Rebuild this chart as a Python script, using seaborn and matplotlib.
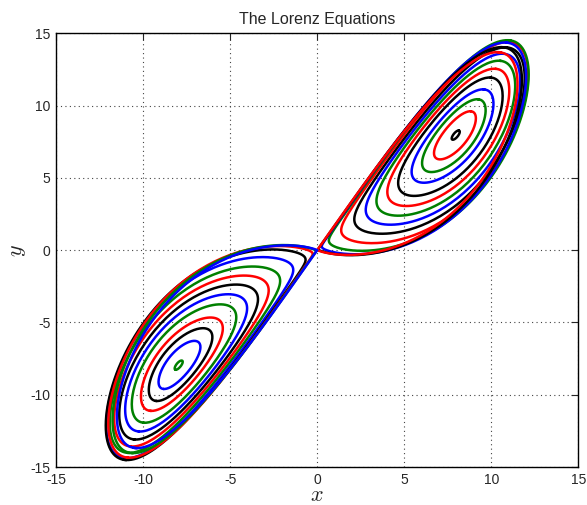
import numpy as np
import matplotlib
matplotlib.use("Agg")
import matplotlib.pyplot as plt
import seaborn as sns

# Lorenz system parameters
SIGMA = 10.0
BETA = 8.0 / 3.0

# rho values of the unstable periodic orbits, innermost orbit first
RHO_VALUES = [24.73, 24.55, 24.3, 24.0, 23.5, 23.0, 22.4, 21.7, 20.8,
              19.5, 17.8, 16.3, 15.0, 14.0]

# line colours for each orbit (same order as RHO_VALUES)
RIGHT_COLORS = ["k", "r", "g", "b", "k", "r", "g", "b", "k", "r", "g", "b", "k", "r"]
LEFT_COLORS = ["g", "b", "k", "r", "g", "b", "k", "r", "g", "b", "k", "r", "g", "b"]
COLOR_MAP = {"r": "#ff0000", "g": "#008000", "b": "#0000ff", "k": "#000000"}

TICKS = [-15, -10, -5, 0, 5, 10, 15]
TITLE = "The Lorenz Equations"

STEP = 0.004


def rhs(s, rho):
    x, y, z = s[..., 0], s[..., 1], s[..., 2]
    return np.stack([SIGMA * (y - x), x * (rho - z) - y, x * y - BETA * z], axis=-1)


def rk4(s, rho, h):
    k1 = rhs(s, rho)
    k2 = rhs(s + 0.5 * h * k1, rho)
    k3 = rhs(s + 0.5 * h * k2, rho)
    k4 = rhs(s + h * k3, rho)
    return s + h / 6.0 * (k1 + 2 * k2 + 2 * k3 + k4)


def locate_orbits(rhos, n_grid=24, rounds=9, t_end=24.0):
    """Bisect along a ray from C+ for the edge of its basin (the periodic orbit)."""
    rhos = np.asarray(rhos, float)
    c = np.sqrt(BETA * (rhos - 1.0))
    centre = np.stack([c, c, rhos - 1.0], axis=-1)
    ray = np.array([-1.0, -1.0, 0.0]) / np.sqrt(2.0)
    lo = np.full(len(rhos), 0.02)
    hi = np.full(len(rhos), 11.0)
    n_steps = int(round(t_end / STEP))
    a0, a1 = int(3 / STEP), int(7 / STEP)
    b0 = n_steps - int(4 / STEP)
    rr = rhos[:, None]
    cen = centre[:, None, :]
    idx = np.arange(len(rhos))
    for _ in range(rounds):
        d = lo[:, None] + (hi - lo)[:, None] * np.linspace(0.0, 1.0, n_grid)[None, :]
        s = cen + d[..., None] * ray
        escaped = np.zeros(d.shape, bool)
        ra = np.zeros(d.shape)
        rb = np.zeros(d.shape)
        for k in range(1, n_steps + 1):
            s = rk4(s, rr, STEP)
            escaped |= s[..., 0] < 0
            if a0 <= k < a1:
                ra = np.maximum(ra, np.linalg.norm(s - cen, axis=-1))
            elif k >= b0:
                rb = np.maximum(rb, np.linalg.norm(s - cen, axis=-1))
        outside = escaped | (rb > ra)
        outside[:, -1] = True
        j = np.maximum(np.argmax(outside, axis=1), 1)
        lo, hi = d[idx, j - 1], d[idx, j]
    return centre + lo[:, None] * ray


def trace_orbit(start, rho, t_max=12.0):
    """Follow the orbit and keep one full turn between two upward crossings of z = rho - 1."""
    s = start.copy()
    pts = [s]
    for _ in range(int(t_max / STEP)):
        s = rk4(s, rho, STEP)
        pts.append(s)
    p = np.array(pts)
    t = np.arange(len(p)) * STEP
    z = p[:, 2] - (rho - 1.0)
    up = np.where((z[:-1] < 0) & (z[1:] >= 0) & (t[:-1] > 1.5))[0]
    a, b = up[0], up[1]
    return p[a:b + 2]


starts = locate_orbits(RHO_VALUES)
orbits = [trace_orbit(st, rho) for st, rho in zip(starts, RHO_VALUES)]

sns.set_style("white")
plt.rcParams["font.family"] = ["Liberation Sans", "DejaVu Sans"]
plt.rcParams["mathtext.fontset"] = "cm"
plt.rcParams["axes.unicode_minus"] = False

fig = plt.figure(figsize=(5.87, 5.05), dpi=100)
ax = fig.add_axes([0.0954, 0.0752, 0.890, 0.859])

# orbits around C+ (inside out), then their mirror images around C-
for orb, col in zip(orbits, RIGHT_COLORS):
    sns.lineplot(x=orb[:, 0], y=orb[:, 1], sort=False, estimator=None,
                 color=COLOR_MAP[col], lw=1.8, ax=ax)
for orb, col in zip(orbits, LEFT_COLORS):
    sns.lineplot(x=-orb[:, 0], y=-orb[:, 1], sort=False, estimator=None,
                 color=COLOR_MAP[col], lw=1.8, ax=ax)

ax.set_xlim(-15, 15)
ax.set_ylim(-15, 15)
ax.set_xticks(TICKS)
ax.set_yticks(TICKS)
ax.set_xticklabels([str(t) for t in TICKS], fontsize=10)
ax.set_yticklabels([str(t) for t in TICKS], fontsize=10)
ax.grid(True, linestyle=(0, (1, 3)), color="#444444", lw=0.8)
ax.tick_params(direction="in", top=True, right=True, length=5, width=0.8, pad=4)
for sp in ax.spines.values():
    sp.set_color("black")
    sp.set_linewidth(1.0)
ax.set_xlabel("$x$", fontsize=16, labelpad=-1)
ax.set_ylabel("$y$", fontsize=16, labelpad=2)
ax.set_title(TITLE, fontsize=11.5, pad=7)

fig.savefig("out.png", dpi=100)
